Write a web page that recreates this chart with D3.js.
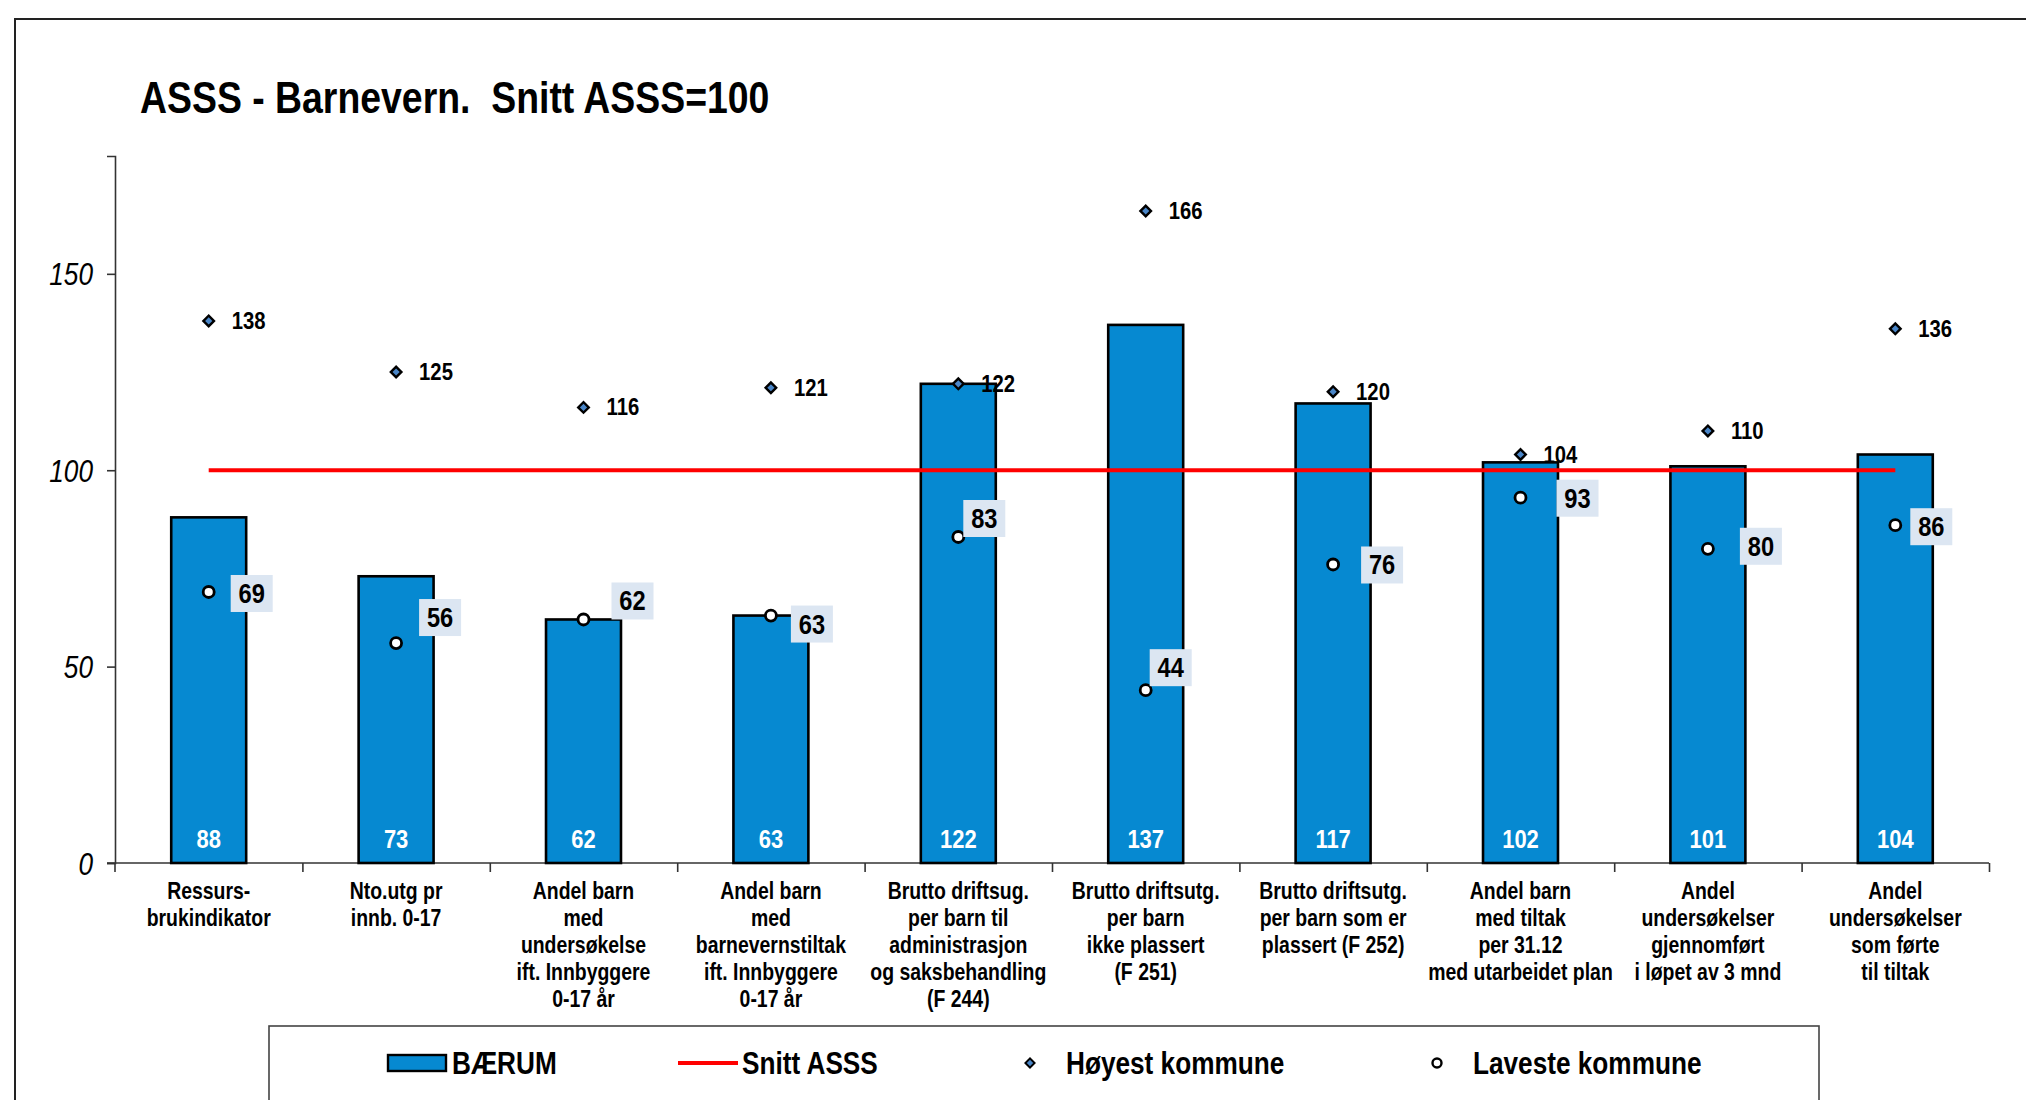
<!DOCTYPE html>
<html><head><meta charset="utf-8">
<script src="https://cdn.jsdelivr.net/npm/d3@7"></script>
<style>
html,body{margin:0;padding:0;background:#fff;}
svg text{font-family:"Liberation Sans",Arial,sans-serif;}
</style></head>
<body>
<svg id="chart" width="2026" height="1100"></svg>
<script>
// ---- data ----
const categories = [
  ["Ressurs-","brukindikator"],
  ["Nto.utg pr","innb. 0-17"],
  ["Andel barn","med","undersøkelse","ift. Innbyggere","0-17 år"],
  ["Andel barn","med","barnevernstiltak","ift. Innbyggere","0-17 år"],
  ["Brutto driftsug.","per barn til","administrasjon","og saksbehandling","(F 244)"],
  ["Brutto driftsutg.","per barn","ikke plassert","(F 251)"],
  ["Brutto driftsutg.","per barn som er","plassert (F 252)"],
  ["Andel barn","med tiltak","per 31.12","med utarbeidet plan"],
  ["Andel","undersøkelser","gjennomført","i løpet av 3 mnd"],
  ["Andel","undersøkelser","som førte","til tiltak"]
];
const baerum  = [88, 73, 62, 63, 122, 137, 117, 102, 101, 104];
const highest = [138, 125, 116, 121, 122, 166, 120, 104, 110, 136];
const lowest  = [69, 56, 62, 63, 83, 44, 76, 93, 80, 86];
const snitt = 100;
const yTicks = [0, 50, 100, 150];
const title = "ASSS - Barnevern.  Snitt ASSS=100";
const legendLabels = ["BÆRUM", "Snitt ASSS", "Høyest kommune", "Laveste kommune"];

// ---- layout (label nudges in px, as placed in the original) ----
const lowLabelDx = [43, 44, 49, 41, 26, 25, 49, 57, 53, 36];
const lowLabelDy = [1, -26, -19, 8, -19, -23, 0, 0, -3, 1];

const SX = 0.845;
const svg = d3.select("#chart");
const M = {left:115, right:1989, top:156, bottom:863};
const idx = d3.range(categories.length);

const x = d3.scaleBand().domain(idx).range([M.left, M.right]).paddingInner(0.6).paddingOuter(0.3);
const y = d3.scaleLinear().domain([0, 180]).range([M.bottom, M.top]);
const cx = i => x(i) + x.bandwidth()/2;

function ntext(g, px, py, str, size, opts={}) {
  const t = g.append("text")
    .attr("transform", `translate(${px},${py}) scale(${opts.sx||SX},1)`)
    .attr("font-size", size)
    .attr("font-weight", opts.weight || "bold")
    .attr("font-style", opts.style || "normal")
    .attr("text-anchor", opts.anchor || "start")
    .attr("fill", opts.fill || "#000")
    .style("white-space", "pre")
    .text(str);
  if (opts.dy) t.attr("dy", opts.dy);
  return t;
}

// outer frame
svg.append("rect").attr("x", 15).attr("y", 19).attr("width", 2100).attr("height", 1200)
  .attr("fill", "none").attr("stroke", "#222").attr("stroke-width", 2);

// title
ntext(svg, 140, 113, title, 44, {sx:0.85});

// y axis
const yAxis = svg.append("g").attr("transform", `translate(${M.left},0)`)
  .call(d3.axisLeft(y).tickValues(yTicks).tickSize(8).tickFormat(d3.format("d")));
yAxis.select(".domain").attr("stroke", "#333").attr("stroke-width", 1.6);
yAxis.selectAll(".tick line").attr("stroke", "#333").attr("stroke-width", 1.6);
yAxis.selectAll(".tick text")
  .attr("x", 0).attr("dy", null)
  .attr("transform", `translate(-22,11) scale(${SX},1)`)
  .attr("font-size", 31).attr("font-style", "italic").attr("fill", "#000")
  .attr("font-family", "'Liberation Sans',Arial,sans-serif");

// x axis
const xb = d3.scaleLinear().domain([0, categories.length]).range([M.left, M.right]);
const xAxis = svg.append("g").attr("transform", `translate(0,${M.bottom})`)
  .call(d3.axisBottom(xb).tickValues(d3.range(1, categories.length + 1)).tickSize(9).tickSizeOuter(0).tickFormat(""));
xAxis.select(".domain").attr("stroke", "#333").attr("stroke-width", 1.6)
  .attr("d", `M${M.left - 8},0H${M.right}`);
xAxis.selectAll(".tick line").attr("stroke", "#333").attr("stroke-width", 1.6);
svg.append("line").attr("x1", M.left).attr("x2", M.left).attr("y1", M.bottom).attr("y2", M.bottom + 9)
  .attr("stroke", "#333").attr("stroke-width", 1.6);

// category labels
const catG = svg.append("g");
categories.forEach((lines, i) => {
  lines.forEach((ln, k) => {
    ntext(catG, cx(i), 899 + k * 27, ln, 23, {anchor: "middle"});
  });
});

// bars
svg.append("g").selectAll("rect").data(baerum).join("rect")
  .attr("x", (d, i) => x(i)).attr("width", x.bandwidth())
  .attr("y", d => y(d)).attr("height", d => y(0) - y(d))
  .attr("fill", "#0689D1").attr("stroke", "#000").attr("stroke-width", 2.6);

// bar value labels
const barLab = svg.append("g");
baerum.forEach((d, i) => ntext(barLab, cx(i), 848, String(d), 26, {anchor: "middle", fill: "#fff"}));

// average line
svg.append("line")
  .attr("x1", cx(0)).attr("x2", cx(categories.length - 1))
  .attr("y1", y(snitt)).attr("y2", y(snitt))
  .attr("stroke", "#ff0000").attr("stroke-width", 4);

// highest markers (diamond = rotated square)
const sq = d3.symbol().type(d3.symbolSquare).size(56);
svg.append("g").selectAll("path").data(highest).join("path")
  .attr("d", sq)
  .attr("transform", (d, i) => `translate(${cx(i)},${y(d)}) rotate(45)`)
  .attr("fill", "#4A86C8").attr("stroke", "#000").attr("stroke-width", 2.4);
const hiLab = svg.append("g");
highest.forEach((d, i) => ntext(hiLab, cx(i) + 23, y(d) + 8, String(d), 24));

// lowest markers
svg.append("g").selectAll("circle").data(lowest).join("circle")
  .attr("cx", (d, i) => cx(i)).attr("cy", d => y(d)).attr("r", 5.5)
  .attr("fill", "#fff").attr("stroke", "#000").attr("stroke-width", 2.8);
const loLab = svg.append("g");
lowest.forEach((d, i) => {
  const tx = cx(i) + lowLabelDx[i], ty = y(d) + lowLabelDy[i];
  loLab.append("rect").attr("x", tx - 21).attr("y", ty - 18).attr("width", 42).attr("height", 37)
    .attr("fill", "#DCE6F2");
  ntext(loLab, tx, ty + 10, String(d), 28, {anchor: "middle"});
});

// legend
const lg = svg.append("g");
lg.append("rect").attr("x", 269).attr("y", 1026).attr("width", 1550).attr("height", 120)
  .attr("fill", "#fff").attr("stroke", "#444").attr("stroke-width", 1.6);
const ly = 1063;
lg.append("rect").attr("x", 388).attr("y", ly - 8).attr("width", 58).attr("height", 16)
  .attr("fill", "#0689D1").attr("stroke", "#000").attr("stroke-width", 2.4);
ntext(lg, 452, ly + 11, legendLabels[0], 31);
lg.append("line").attr("x1", 678).attr("x2", 738).attr("y1", ly).attr("y2", ly)
  .attr("stroke", "#ff0000").attr("stroke-width", 4);
ntext(lg, 742, ly + 11, legendLabels[1], 31);
lg.append("path").attr("d", d3.symbol().type(d3.symbolSquare).size(42))
  .attr("transform", `translate(1030,${ly}) rotate(45)`)
  .attr("fill", "#4A86C8").attr("stroke", "#000").attr("stroke-width", 2);
ntext(lg, 1066, ly + 11, legendLabels[2], 31);
lg.append("circle").attr("cx", 1437).attr("cy", ly).attr("r", 4.5)
  .attr("fill", "#fff").attr("stroke", "#000").attr("stroke-width", 2.4);
ntext(lg, 1473, ly + 11, legendLabels[3], 31);
</script>
</body></html>
